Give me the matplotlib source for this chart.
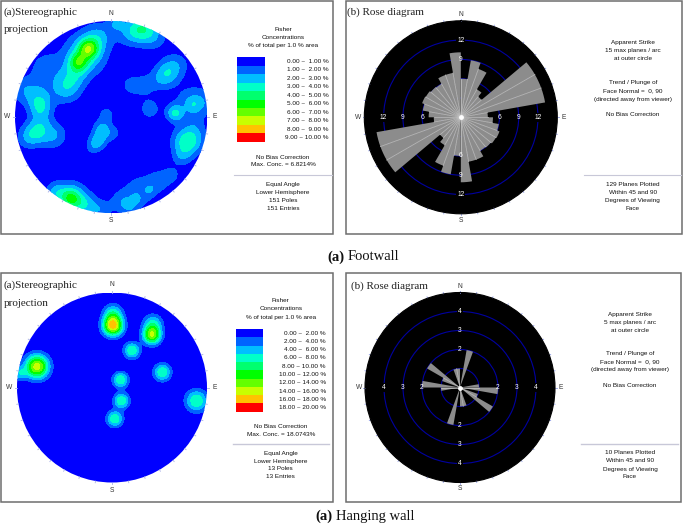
import numpy as np
import matplotlib
matplotlib.use('Agg')
import matplotlib.pyplot as plt
from matplotlib.colors import ListedColormap
from matplotlib.patches import Circle, Rectangle

SANS = 'Liberation Sans'
SERIF = 'Liberation Serif'

# Couleurs communes aux deux légendes
level_colors = ['#0000ff', '#0064ff', '#00beff', '#00ffc8', '#00ff6e',
                '#00ff00', '#64ff00', '#c8ff00', '#ffc300', '#ff0000']

# Concentrations, footwall : centre, pic et étalement de chaque amas
foot_x = [-.34, -.235, -.27, -.47, -.38, -.13, -.68,
          .32, .20, .43, .05,
          .60, .53, .69, .33, .20,
          -.74, -.78, -.60, -.87, -.92, -.76, -.72,
          -.10, -.13, -.05, .02, -.19, .40,
          .66, .85, .82, .70, .95,
          .79, .73, .90, .86,
          -.42, -.42, -.27, -.58, -.10,
          .30, .40, .26, .50, .63, .10, .20]
foot_y = [.57, .71, .65, .30, .43, .84, .51,
          .93, .88, .85, .98,
          .48, .40, .55, .33, .33,
          .12, -.15, -.19, -.22, .28, .27, -.02,
          -.12, -.24, .03, -.17, -.31, .08,
          .04, .13, .16, .02, .15,
          -.26, -.42, -.15, -.03,
          -.85, -.82, -.92, -.78, -.97,
          -.77, -.76, -.85, -.66, -.60, -.88, -.95]
foot_peak = [3.4, 4.2, 2.8, 2.5, 1.3, 1.7, 1.5,
             2.3, 1.9, 1.9, 1.6,
             1.6, 1.6, 1.2, 1.3, 1.2,
             2.8, 2.3, 2.0, 1.4, 1.5, 1.0, 1.0,
             2.0, 2.0, 1.3, 1.2, 1.2, 1.4,
             2.5, 0.9, 1.4, 0.3, 1.2,
             3.7, 1.2, 0.8, 0.5,
             2.9, 2.2, 2.2, 1.8, 1.5,
             1.6, 0.8, 0.9, 1.3, 1.2, 1.4, 1.2]
foot_spread = [.069, .069, .16, .11, .09, .10, .125,
               .09, .105, .11, .065,
               .09, .09, .10, .09, .065,
               .09, .09, .10, .09, .10, .10, .075,
               .065, .065, .065, .065, .065, .085,
               .06, .05, .13, .10, .10,
               .105, .07, .09, .06,
               .07, .12, .09, .075, .075,
               .13, .035, .035, .085, .065, .085, .065]

# Concentrations, hanging wall
hang_x = [.01, .01, .42, .43, -.79, -.97, .21, .53, .09, .10, .03, .89]
hang_y = [.65, .78, .55, .67, .22, .15, .39, .16, .08, -.14, -.33, -.14]
hang_peak = [16.5, 6.0, 13.0, 6.0, 15.0, 5.0, 7.95, 7.95, 7.95, 7.95, 7.95, 7.95]
hang_spread = [.072, .07, .065, .07, .085, .05, .058, .062, .056, .056, .058, .08]

foot_labels = ['0.00 ~  1.00 %', '1.00 ~  2.00 %', '2.00 ~  3.00 %', '3.00 ~  4.00 %',
               '4.00 ~  5.00 %', '5.00 ~  6.00 %', '6.00 ~  7.00 %', '7.00 ~  8.00 %',
               '8.00 ~  9.00 %', '9.00 ~ 10.00 %']
hang_labels = ['0.00 ~  2.00 %', '2.00 ~  4.00 %', '4.00 ~  6.00 %', '6.00 ~  8.00 %',
               '8.00 ~ 10.00 %', '10.00 ~ 12.00 %', '12.00 ~ 14.00 %', '14.00 ~ 16.00 %',
               '16.00 ~ 18.00 %', '18.00 ~ 20.00 %']

# Rosaces : nombre de plans par classe de 10 degrés entre 0 et 180 (symétrique)
foot_rose = [6, 9, 8, 5, 4.2, 13.3, 13.3, 13.3, 4.2, 5, 6, 6.4, 6.3, 6.1, 6, 7, 7, 10.1]
hang_rose = [0, 2, 0, 0, 0, 0, 0, 0, 1, 2, 0, 1, 2, 0, 0, 0, 1, 1]

foot_rings = {'N': [12, 9], 'S': [12, 9, 6], 'E': [6, 9, 12], 'W': [12, 9, 6]}
hang_rings = {'N': [4, 3, 2], 'S': [4, 3, 2], 'E': [2, 3, 4], 'W': [4, 3, 2]}

W, H = 685, 525
fig = plt.figure(figsize=(W / 100, H / 100), dpi=100)

# Axe de fond en pixels, pour les cadres et les textes
bg = fig.add_axes([0, 0, 1, 1])
bg.set_xlim(0, W)
bg.set_ylim(H, 0)
bg.axis('off')


def axe_pixels(cx, cy, r, **kw):
    """Axe carré centré sur (cx, cy), de rayon r, en pixels de l'image."""
    return fig.add_axes([(cx - r) / W, 1 - (cy + r) / H, 2 * r / W, 2 * r / H], **kw)


def cadre(x0, y0, x1, y1):
    bg.add_patch(Rectangle((x0, y0), x1 - x0, y1 - y0, fill=False, ec='#6e6e6e', lw=1.1))


def textes(x, ys, lignes):
    for y, s in zip(ys, lignes):
        bg.text(x, y, s, ha='center', va='center', fontsize=4.6, family=SANS, color='#111111')


def titre(x, y, s):
    bg.text(x, y, s, ha='left', va='center', fontsize=8, family=SERIF, color='#222222')


def stereonet(cx, cy, r, xs, ys, peaks, spreads, step):
    ax = axe_pixels(cx, cy, r)
    ax.set_xlim(-1, 1)
    ax.set_ylim(-1, 1)
    ax.axis('off')
    gx, gy = np.meshgrid(np.linspace(-1, 1, 500), np.linspace(-1, 1, 500))
    z = np.zeros_like(gx)
    for x0, y0, p, s in zip(xs, ys, peaks, spreads):
        z += p * np.exp(-((gx - x0) ** 2 + (gy - y0) ** 2) / (2 * s ** 2))
    levels = step * np.arange(11)
    cs = ax.contourf(gx, gy, np.clip(z, 0, levels[-1] - 1e-6), levels=levels,
                     cmap=ListedColormap(level_colors))
    cs.set_clip_path(Circle((0, 0), 1, transform=ax.transData))
    # Graduations tous les 10 degrés
    for a in np.radians(np.arange(0, 360, 10)):
        ax.plot([np.sin(a), 1.018 * np.sin(a)], [np.cos(a), 1.018 * np.cos(a)],
                color='#a5aee6', lw=0.6, clip_on=False)
    for s, ang in zip('NESW', [0, 90, 180, 270]):
        t = np.radians(ang)
        ax.text(np.sin(t) * 1.08, np.cos(t) * 1.08, s, ha='center', va='center',
                fontsize=4.8, family=SANS, color='#333333', clip_on=False)
    return ax


def rose(cx, cy, r, values, rmax, rings):
    ax = axe_pixels(cx, cy, r, projection='polar')
    ax.set_theta_zero_location('N')
    ax.set_theta_direction(-1)
    ax.set_facecolor('black')
    ax.set_ylim(0, rmax)
    ax.set_yticks(np.arange(rmax // 5, rmax, rmax // 5))
    ax.set_yticklabels([])
    ax.set_xticks([])
    ax.grid(True, color='#0000a0', lw=0.8)
    ax.spines['polar'].set_color('#000000')
    both = np.concatenate([values, values]).astype(float)
    theta = np.radians(np.arange(5, 360, 10))
    ax.bar(theta, both, width=np.radians(10), color='#8c8c8c', edgecolor='none', zorder=3)
    # Traits clairs entre classes voisines
    for i in range(36):
        rayon = min(both[i], both[i - 1])
        ax.plot([np.radians(10 * i)] * 2, [0, rayon], color='#c8c8c8', lw=0.5, zorder=3.5)
    ax.scatter([0], [0], s=6, color='white', zorder=3.6)
    for a in np.radians(np.arange(0, 360, 10)):
        ax.plot([a, a], [rmax, rmax * 1.016], color='#8f9ce6', lw=0.6, clip_on=False)
    for s, vals in rings.items():
        a = np.radians({'N': 0, 'E': 90, 'S': 180, 'W': 270}[s])
        for v in vals:
            ax.text(a, v, str(v), ha='center', va='center', fontsize=4.8, family=SANS,
                    color='white', zorder=4,
                    bbox=dict(fc='black', ec='none', pad=0.6, alpha=1.0 if v > rmax * 0.7 else 0.0))
    for s, ang in zip('NESW', [0, 90, 180, 270]):
        ax.text(np.radians(ang), rmax * 1.065, s, ha='center', va='center', fontsize=4.8,
                family=SANS, color='#333333', clip_on=False)
    return ax


def legende(x0, x1, y0, y1, lx, labels):
    dy = (y1 - y0) / 10
    for i, (c, s) in enumerate(zip(level_colors, labels)):
        bg.add_patch(Rectangle((x0, y0 + i * dy), x1 - x0, dy, fc=c, ec='none'))
        bg.text(lx, y0 + (i + 0.5) * dy, s, ha='right', va='center', fontsize=4.6,
                family=SANS, color='#111111')


# Cadres
cadre(1, 0.5, 333, 234)
cadre(346, 0.5, 682, 234)
cadre(1, 273, 333, 502)
cadre(346, 273, 681, 502)

# Footwall
stereonet(111.2, 117, 96.2, foot_x, foot_y, foot_peak, foot_spread, 1.0)
rose(460.8, 117.3, 96.5, foot_rose, 15, foot_rings)
titre(4, 12, '(a)Stereographic')
titre(4, 30, 'projection')
titre(347, 12, '(b) Rose diagram')
legende(237.3, 265, 57.3, 141.7, 328.5, foot_labels)
textes(283, [29.3, 37.7, 45.3], ['Fisher', 'Concentrations', '% of total per 1.0 % area'])
textes(283, [157.3, 165], ['No Bias Correction', 'Max. Conc. = 6.8214%'])
bg.plot([234, 332], [175, 175], color='#c8c8d8', lw=0.8)
textes(283, [184.3, 192.7, 200.7, 208.7],
       ['Equal Angle', 'Lower Hemisphere', '151 Poles', '151 Entries'])
textes(632.7, [42.7, 50.7, 59], ['Apparent Strike', '15 max planes / arc', 'at outer circle'])
textes(632.7, [82.3, 90.7, 99.3], ['Trend / Plunge of', 'Face Normal =  0, 90',
                                   '(directed away from viewer)'])
textes(632.7, [115], ['No Bias Correction'])
bg.plot([584, 681], [175, 175], color='#c8c8d8', lw=0.8)
textes(632.7, [184.3, 192.3, 200.3, 208.7],
       ['129 Planes Plotted', 'Within 45 and 90', 'Degrees of Viewing', 'Face'])

# Hanging wall
stereonet(112, 387.5, 95, hang_x, hang_y, hang_peak, hang_spread, 2.0)
rose(460, 387.5, 95, hang_rose, 5, hang_rings)
titre(4, 285, '(a)Stereographic')
titre(4, 303, 'projection')
titre(351, 286, '(b) Rose diagram')
legende(235.7, 262.7, 329, 411.7, 325.8, hang_labels)
textes(280.7, [301, 309, 317], ['Fisher', 'Concentrations', '% of total per 1.0 % area'])
textes(280.7, [426.7, 434], ['No Bias Correction', 'Max. Conc. = 18.0743%'])
bg.plot([233, 329], [444.3, 444.3], color='#c8c8d8', lw=1.0)
textes(280.7, [453, 461, 469, 476.7],
       ['Equal Angle', 'Lower Hemisphere', '13 Poles', '13 Entries'])
textes(630, [314.3, 322.3, 330.3], ['Apparent Strike', '5 max planes / arc', 'at outer circle'])
textes(630, [353.3, 361.3, 369.3], ['Trend / Plunge of', 'Face Normal =  0, 90',
                                    '(directed away from viewer)'])
textes(630, [385.3], ['No Bias Correction'])
bg.plot([581, 678], [444.3, 444.3], color='#c8c8d8', lw=1.0)
textes(630, [453, 461, 469, 477],
       ['10 Planes Plotted', 'Within 45 and 90', 'Degrees of Viewing', 'Face'])

# Légendes des sous-figures
bg.text(327, 257, '(a)', ha='left', va='center', fontsize=10.5, family=SERIF, weight='bold', color='#111111')
bg.text(348, 257, 'Footwall', ha='left', va='center', fontsize=10.5, family=SERIF, color='#111111')
bg.text(315, 516.5, '(a)', ha='left', va='center', fontsize=10.5, family=SERIF, weight='bold', color='#111111')
bg.text(336, 516.5, 'Hanging wall', ha='left', va='center', fontsize=10.5, family=SERIF, color='#111111')

fig.savefig('out.png', dpi=100)
